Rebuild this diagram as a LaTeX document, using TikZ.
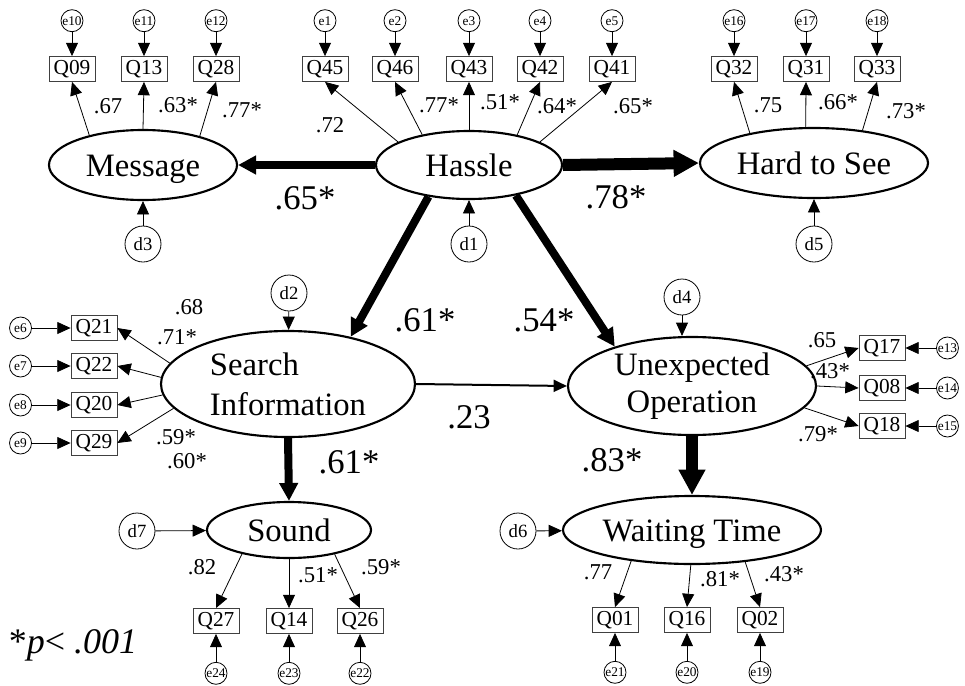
\documentclass[tikz,border=0pt]{standalone}
\usepackage{fontspec}
\setmainfont{Liberation Serif}
\usepackage{tikz}
\usetikzlibrary{arrows.meta}
\usetikzlibrary{shapes.geometric}
\usetikzlibrary{positioning}
\usetikzlibrary{calc}

\begin{document}
\begin{tikzpicture}[x=0.75pt,y=-0.75pt,
	latent/.style={draw,ellipse,line width=1.6pt,inner sep=0pt,font=\fontsize{24.5}{30}\selectfont},
	oneline/.style={text height=17pt,text depth=0pt},
	item/.style={draw=black!75,line width=0.6pt,minimum width=34.5pt,minimum height=18.75pt,inner sep=0pt,font=\fontsize{16}{16}\selectfont},
	err/.style={draw,circle,line width=0.6pt,minimum size=16.5pt,inner sep=0pt,font=\fontsize{10}{10}\selectfont},
	dist/.style={draw,circle,line width=0.6pt,minimum size=27pt,inner sep=0pt,font=\fontsize{14}{14}\selectfont},
	load/.style={line width=0.6pt,-{Triangle[length=10pt,width=9pt]}},
	pathmid/.style={line width=6pt,-{Triangle[length=13.5pt,width=13.5pt]}},
	pathbig/.style={line width=9pt,-{Triangle[length=19pt,width=19pt]}},
	paththin/.style={line width=1.5pt,-{Triangle[length=10pt,width=9pt]}},
	coef/.style={font=\fontsize{17}{17}\selectfont,inner sep=0pt},
	beta/.style={font=\fontsize{26}{26}\selectfont,inner sep=0pt}]
	\useasboundingbox (0,0) rectangle (965,686);
	
	% latent factors
	\node[latent,oneline,minimum width=141pt,minimum height=52.5pt] (msg) at (143,165) {Message};
	\node[latent,oneline,minimum width=139.5pt,minimum height=51pt] (hassle) at (469,165) {Hassle};
	\node[latent,oneline,minimum width=171pt,minimum height=52.5pt] (hard) at (814,163) {Hard to See};
	\node[latent,minimum width=190.5pt,minimum height=79.5pt,align=left] (search) at (288,384) {Search\\Information};
	\node[latent,minimum width=186pt,minimum height=73.5pt,align=center] (unexp) at (692,386) {\raisebox{-2pt}{Unexpected}\\Operation};
	\node[latent,oneline,minimum width=123pt,minimum height=42pt] (sound) at (289,530) {Sound};
	\node[latent,oneline,minimum width=193.5pt,minimum height=51pt] (wait) at (692,530) {Waiting Time};
	
	% items
	\node[item] (q09) at (72,69) {Q09};
	\node[item] (q13) at (144,69) {Q13};
	\node[item] (q28) at (216,69) {Q28};
	\node[item] (q45) at (325,69) {Q45};
	\node[item] (q46) at (395,69) {Q46};
	\node[item] (q43) at (469,69) {Q43};
	\node[item] (q42) at (540,69) {Q42};
	\node[item] (q41) at (612,69) {Q41};
	\node[item] (q32) at (734,69) {Q32};
	\node[item] (q31) at (806,69) {Q31};
	\node[item] (q33) at (877,69) {Q33};
	\node[item] (q21) at (94,328) {Q21};
	\node[item] (q22) at (94,366) {Q22};
	\node[item] (q20) at (94,405) {Q20};
	\node[item] (q29) at (94,443) {Q29};
	\node[item] (q17) at (882,348) {Q17};
	\node[item] (q08) at (882,388) {Q08};
	\node[item] (q18) at (882,426) {Q18};
	\node[item] (q27) at (216,621) {Q27};
	\node[item] (q14) at (289,621) {Q14};
	\node[item] (q26) at (360,621) {Q26};
	\node[item] (q01) at (615,620) {Q01};
	\node[item] (q16) at (687,620) {Q16};
	\node[item] (q02) at (760,620) {Q02};
	
	% error terms
	\node[err,above=18pt of q09] (e10) {e10};
	\node[err,above=18pt of q13] (e11) {e11};
	\node[err,above=18pt of q28] (e12) {e12};
	\node[err,above=18pt of q45] (e1) {e1};
	\node[err,above=18pt of q46] (e2) {e2};
	\node[err,above=18pt of q43] (e3) {e3};
	\node[err,above=18pt of q42] (e4) {e4};
	\node[err,above=18pt of q41] (e5) {e5};
	\node[err,above=18pt of q32] (e16) {e16};
	\node[err,above=18pt of q31] (e17) {e17};
	\node[err,above=18pt of q33] (e18) {e18};
	\node[err,left=29pt of q21] (e6) {e6};
	\node[err,left=29pt of q22] (e7) {e7};
	\node[err,left=29pt of q20] (e8) {e8};
	\node[err,left=29pt of q29] (e9) {e9};
	\node[err,right=23pt of q17] (e13) {e13};
	\node[err,right=23pt of q08] (e14) {e14};
	\node[err,right=23pt of q18] (e15) {e15};
	\node[err,below=21pt of q27] (e24) {e24};
	\node[err,below=21pt of q14] (e23) {e23};
	\node[err,below=21pt of q26] (e22) {e22};
	\node[err,below=21pt of q01] (e21) {e21};
	\node[err,below=21pt of q16] (e20) {e20};
	\node[err,below=21pt of q02] (e19) {e19};
	
	% disturbances
	\node[dist] (d3) at (143,244) {d3};
	\node[dist] (d1) at (469,244) {d1};
	\node[dist] (d5) at (814,244) {d5};
	\node[dist] (d2) at (289,293) {d2};
	\node[dist] (d4) at (682,297) {d4};
	\node[dist] (d7) at (137,531) {d7};
	\node[dist] (d6) at (518,531) {d6};
	
	% loadings
	\draw[load] (msg.151) -- (q09.south);
	\draw[load] (msg.90) -- (q13.south);
	\draw[load] (msg.27) -- (q28.south);
	\draw[load] (hassle.162) -- (q45.south);
	\draw[load] (hassle.147) -- (q46.south);
	\draw[load] (hassle.90) -- (q43.south);
	\draw[load] (hassle.32.5) -- (q42.south);
	\draw[load] (hassle.18) -- (q41.south);
	\draw[load] (hard.155) -- (q32.south);
	\draw[load] (hard.103) -- (q31.south);
	\draw[load] (hard.34.5) -- (q33.south);
	\draw[load] (search.170) -- (q21.east);
	\draw[load] (search.177) -- (q22.east);
	\draw[load] (search.185) -- (q20.east);
	\draw[load] (search.192) -- (q29.east);
	\draw[load] (unexp.10.5) -- (q17.west);
	\draw[load] (unexp.0) -- (q08.west);
	\draw[load] (unexp.-11) -- (q18.west);
	\draw[load] (sound.207) -- (q27.north);
	\draw[load] (sound.270) -- (q14.north);
	\draw[load] (sound.332) -- (q26.north);
	\draw[load] (wait.207) -- (q01.north);
	\draw[load] (wait.268) -- (q16.north);
	\draw[load] (wait.329.5) -- (q02.north);
	
	% errors to items
	\draw[load] (e10) -- (q09);
	\draw[load] (e11) -- (q13);
	\draw[load] (e12) -- (q28);
	\draw[load] (e1) -- (q45);
	\draw[load] (e2) -- (q46);
	\draw[load] (e3) -- (q43);
	\draw[load] (e4) -- (q42);
	\draw[load] (e5) -- (q41);
	\draw[load] (e16) -- (q32);
	\draw[load] (e17) -- (q31);
	\draw[load] (e18) -- (q33);
	\draw[load] (e6) -- (q21);
	\draw[load] (e7) -- (q22);
	\draw[load] (e8) -- (q20);
	\draw[load] (e9) -- (q29);
	\draw[load] (e13) -- (q17);
	\draw[load] (e14) -- (q08);
	\draw[load] (e15) -- (q18);
	\draw[load] (e24) -- (q27);
	\draw[load] (e23) -- (q14);
	\draw[load] (e22) -- (q26);
	\draw[load] (e21) -- (q01);
	\draw[load] (e20) -- (q16);
	\draw[load] (e19) -- (q02);
	
	% disturbances to factors
	\draw[load] (d3) -- (msg);
	\draw[load] (d1) -- (hassle);
	\draw[load] (d5) -- (hard);
	\draw[load] (d2) -- (search);
	\draw[load] (d4) -- (unexp.north -| d4);
	\draw[load] (d7) -- (sound);
	\draw[load] (d6) -- (wait);
	
	% structural paths
	\draw[pathmid] (hassle.west) -- (msg.east);
	\draw[pathbig] (hassle.east) -- (hard.west);
	\draw[pathmid] (hassle.218) -- (search.37);
	\draw[pathmid] (hassle.327) -- (unexp.153);
	\draw[paththin] (search.east) -- (unexp.west);
	\draw[pathmid] (search.south) -- (sound.north);
	\draw[pathbig] (unexp.south) -- (wait.north);
	
	% coefficients
	\node[beta] (b1) at (305,198) {.65*};
	\node[beta] (b2) at (616,197) {.78*};
	\node[beta] (b3) at (425,320) {.61*};
	\node[beta] (b4) at (544,320) {.54*};
	\node[beta] (b5) at (469,417) {.23};
	\node[beta] (b6) at (349,462) {.61*};
	\node[beta] (b7) at (612,460) {.83*};
	
	\node[coef] at (108,106) {.67};
	\node[coef] at (178,105) {.63*};
	\node[coef] at (242,110) {.77*};
	\node[coef] at (330,125) {.72};
	\node[coef] at (439,105) {.77*};
	\node[coef] at (500,102) {.51*};
	\node[coef] at (557,106) {.64*};
	\node[coef] at (633,106) {.65*};
	\node[coef] at (768,105) {.75};
	\node[coef] at (838,102) {.66*};
	\node[coef] at (906,111) {.73*};
	\node[coef] at (189,307) {.68};
	\node[coef] at (177,337) {.71*};
	\node[coef] at (176,437) {.59*};
	\node[coef] at (187,461) {.60*};
	\node[coef] at (822,340) {.65};
	\node[coef] at (830,371) {.43*};
	\node[coef] at (818,434) {.79*};
	\node[coef] at (202,567) {.82};
	\node[coef] at (318,575) {.51*};
	\node[coef] at (381,567) {.59*};
	\node[coef] at (598,572) {.77};
	\node[coef] at (720,579) {.81*};
	\node[coef] at (784,574) {.43*};
	
	\node[inner sep=0pt,font=\fontsize{27}{27}\selectfont] (note) at (73,645) {*\textit{p}< \textit{.001}};
	
\end{tikzpicture}
\end{document}
